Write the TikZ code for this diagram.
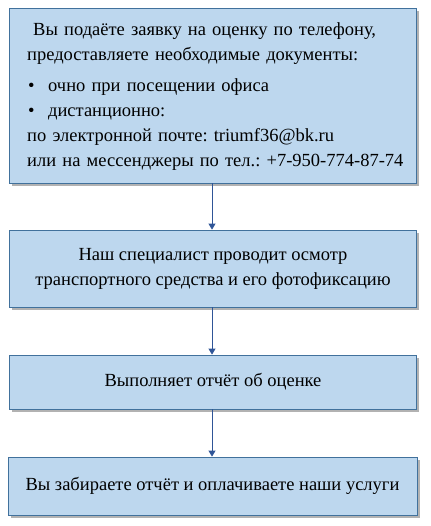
\documentclass[tikz,border=0pt]{standalone}
\usepackage{fontspec}
\setmainfont{Liberation Serif}
\usepackage{tikz}
\usetikzlibrary{shapes,arrows.meta,positioning,calc,shadows}
\frenchspacing
\definecolor{boxfill}{RGB}{189,215,238}
\definecolor{boxline}{RGB}{65,113,156}
\definecolor{arrowcol}{RGB}{47,85,151}
\tikzset{
  block/.style={draw=boxline, fill=boxfill, line width=0.8pt, rectangle,
    drop shadow={shadow xshift=2.5pt, shadow yshift=-3pt, fill=black, opacity=0.3},
    font=\fontsize{18.5}{25}\selectfont, align=center, inner sep=0pt},
  flow/.style={-{Triangle[length=6pt,width=7pt]}, color=arrowcol, line width=0.9pt}
}

\begin{document}
\begin{tikzpicture}[x=1pt,y=-1pt]
    \useasboundingbox (0,0) rectangle (430,526);

    % Step 1: application
    \node[block, minimum width=407pt, minimum height=175pt] (apply) at (213,95.5) {};
    \node[font=\fontsize{18.5}{25}\selectfont, text width=383pt, align=left, inner sep=0pt,
        anchor=north west] (applytext) at (27,22) {%
        \makebox[383pt][s]{\hspace*{6pt}Вы подаёте заявку на оценку по телефону,}\\
        предоставляете необходимые документы:\\[6pt]
        \makebox[21pt][l]{\hspace*{1pt}\textbullet}очно при посещении офиса\\
        \makebox[21pt][l]{\hspace*{1pt}\textbullet}дистанционно:\\
        по электронной почте: triumf36@bk.ru\\
        или на мессенджеры по тел.: +7-950-774-87-74};

    % Step 2: inspection
    \node[block, minimum width=407pt, minimum height=77pt] (inspect) at (213,268.5)
        {Наш специалист проводит осмотр\\транспортного средства и его фотофиксацию};

    % Step 3: report
    \node[block, minimum width=407pt, minimum height=54pt] (report) at (213,382)
        {Выполняет отчёт об оценке};

    % Step 4: pickup and payment
    \node[block, minimum width=409pt, minimum height=58pt] (pay) at (212.5,486)
        {Вы забираете отчёт и оплачиваете наши услуги};

    % Connectors
    \draw[flow] (apply.south -| 212,0) -- (inspect.north -| 212,0);
    \draw[flow] (inspect.south -| 212,0) -- (report.north -| 212,0);
    \draw[flow] (report.south -| 212,0) -- (pay.north -| 212,0);
\end{tikzpicture}
\end{document}
